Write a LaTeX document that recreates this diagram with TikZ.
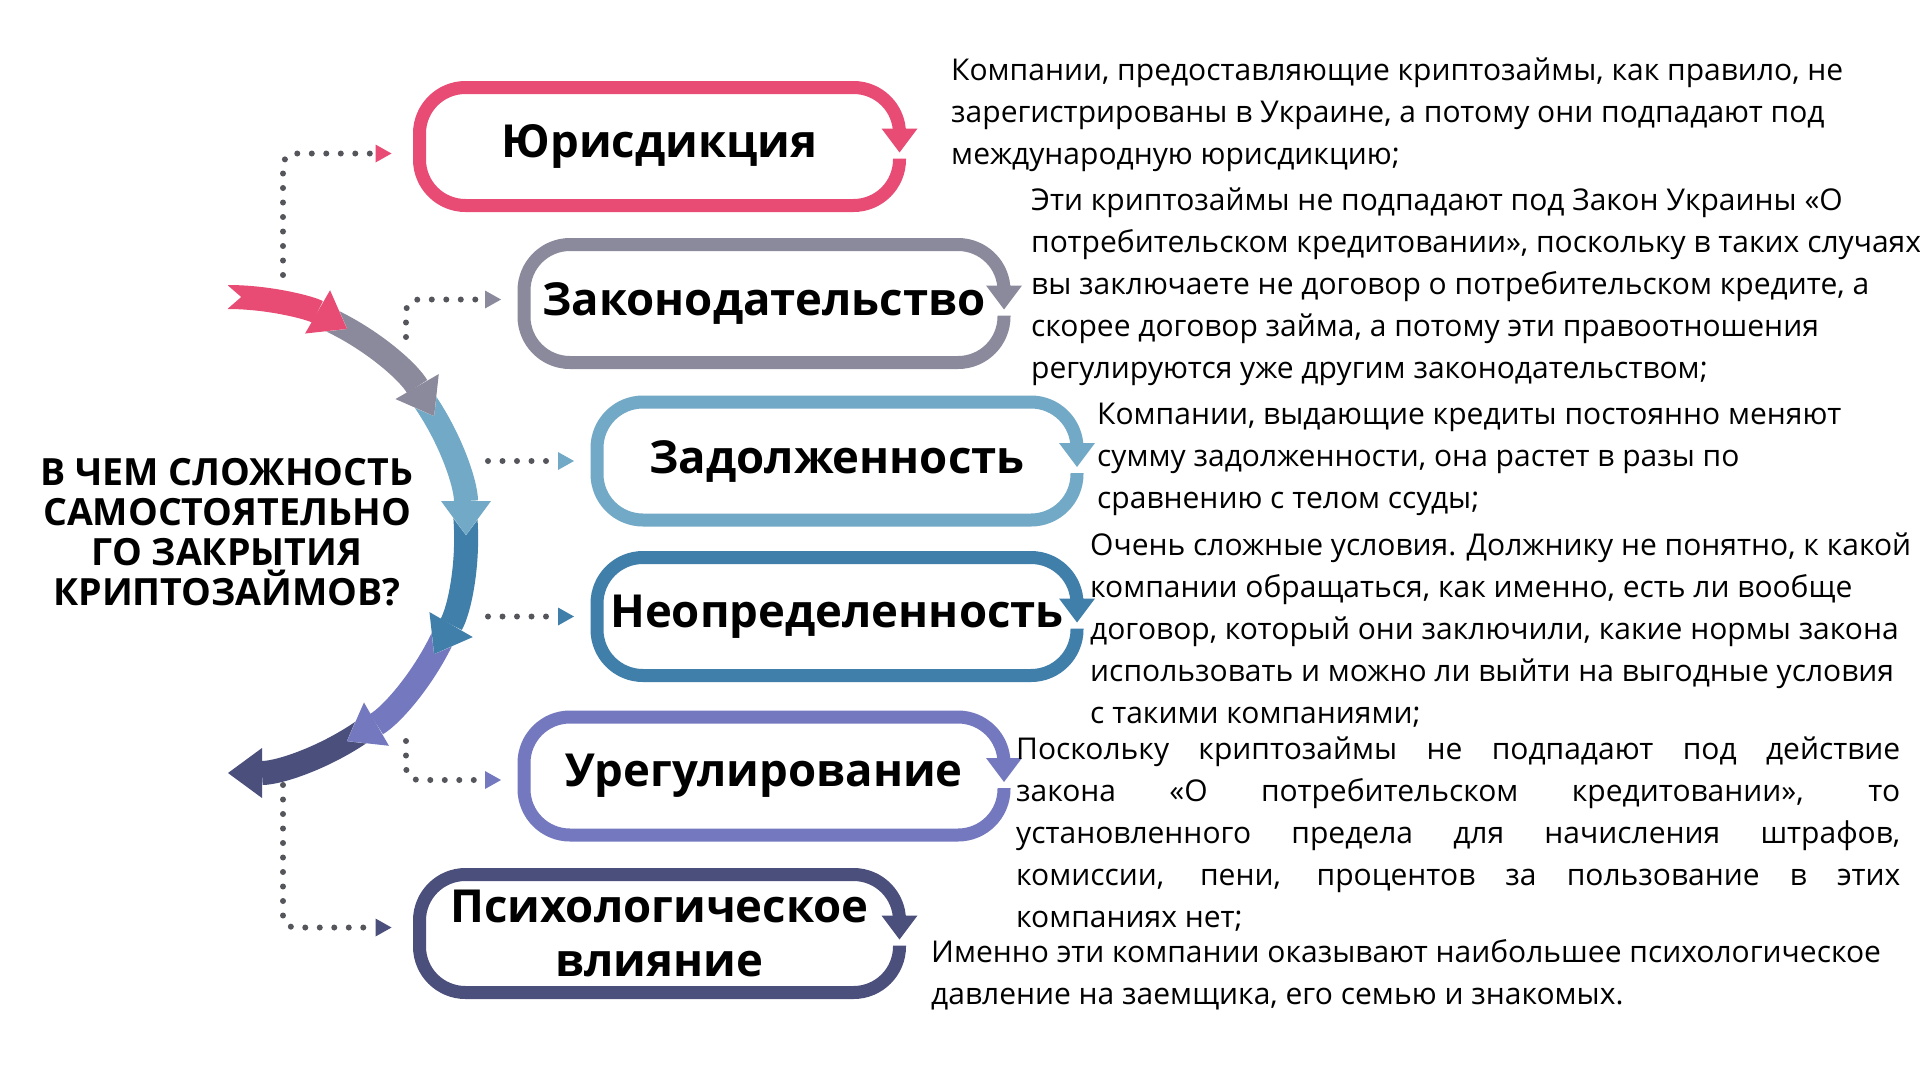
\documentclass[tikz,border=0pt]{standalone}
\usepackage{fontspec}
\setmainfont{Open Sans}
\usetikzlibrary{arrows.meta}

\definecolor{jurcol}{HTML}{E84C74}
\definecolor{lawcol}{HTML}{8A8A9C}
\definecolor{debtcol}{HTML}{72A9C6}
\definecolor{unccol}{HTML}{3F7FAA}
\definecolor{regcol}{HTML}{7479BF}
\definecolor{psycol}{HTML}{4A4F7C}
\definecolor{dotcol}{HTML}{55555C}

\tikzset{
  capsule/.style={minimum width=480pt, minimum height=118pt, inner sep=0pt, outer sep=0pt,
    font=\fontsize{45.5}{54}\selectfont\bfseries, align=center},
  ring/.style={line width=13pt, rounded corners=46pt, -{Triangle[width=36pt,length=24pt,line width=0pt]}},
  seg/.style={line width=24pt, -{Triangle[width=50pt,length=34pt,line width=0pt]},
    preaction={draw=white, line width=30pt, -{Triangle[width=60pt,length=40pt,line width=0pt]}}},
  dotline/.style={dotcol, line width=6pt, line cap=round, dash pattern=on 0pt off 14.5pt, rounded corners=12pt},
  desc/.style={anchor=north west, align=left, inner sep=0pt, font=\fontsize{30}{42}\selectfont},
  title/.style={align=center, inner sep=0pt, font=\fontsize{37.5}{40}\selectfont\bfseries}
}

\begin{document}
\begin{tikzpicture}[x=1pt,y=1pt]
  \fill[white] (0,0) rectangle (1920,-1080);
  \useasboundingbox (0,0) rectangle (1920,-1080);

  \begin{scope}[shift={(228,-535)}]
    \foreach \a/\c in {-60/psycol, -30/regcol, 0/unccol, 30/debtcol, 60/lawcol}
      \draw[seg, \c] (\a+7:238) arc[start angle=\a+7, end angle=\a-30, radius=238];
    \draw[seg, jurcol] (90:238) arc[start angle=90, end angle=60, radius=238];
    \fill[white] (-2,251) -- (13,238) -- (-2,225) -- cycle;
  \end{scope}

  \node[title] (q) at (227,-532) {В ЧЕМ СЛОЖНОСТЬ\\САМОСТОЯТЕЛЬНО\\ГО ЗАКРЫТИЯ\\КРИПТОЗАЙМОВ?};

  \node[capsule] (jur) at (659.5,-146.5) {Юрисдикция};
  \node[capsule] (law) at (764,-303.5) {Законодательство};
  \node[capsule] (debt) at (837,-461) {Задолженность};
  \node[capsule] (unc) at (837,-616.5) {Неопределенность};
  \node[capsule] (reg) at (764,-776) {Урегулирование};
  \node[capsule] (psy) at (659.5,-933.5) {Психологическое\\влияние};

  \foreach \n/\c in {jur/jurcol, law/lawcol, debt/debtcol, unc/unccol, reg/regcol, psy/psycol}
    \draw[ring, \c] ([yshift=-12pt]\n.east) -- (\n.south east) -- (\n.south west)
      -- (\n.north west) -- (\n.north east) -- ([yshift=-6pt]\n.east);

  \coordinate (c1) at (283,-275);
  \coordinate (c2) at (406,-337);
  \coordinate (c3) at (488,-461);
  \coordinate (c4) at (488,-616.5);
  \coordinate (c5) at (406,-741);
  \coordinate (c6) at (283,-785);
  \draw[dotline, -{Triangle[width=18pt,length=16pt,line width=0pt,color=jurcol]}, shorten >=28pt] (c1) |- ([yshift=-7pt]jur.west);
  \draw[dotline, -{Triangle[width=18pt,length=16pt,line width=0pt,color=lawcol]}, shorten >=23pt] (c2) |- ([yshift=4pt]law.west);
  \draw[dotline, -{Triangle[width=18pt,length=16pt,line width=0pt,color=debtcol]}, shorten >=23pt] (c3) -- (debt.west);
  \draw[dotline, -{Triangle[width=18pt,length=16pt,line width=0pt,color=unccol]}, shorten >=23pt] (c4) -- (unc.west);
  \draw[dotline, -{Triangle[width=18pt,length=16pt,line width=0pt,color=regcol]}, shorten >=23pt] (c5) |- ([yshift=-4pt]reg.west);
  \draw[dotline, -{Triangle[width=18pt,length=16pt,line width=0pt,color=psycol]}, shorten >=28pt] (c6) |- ([yshift=6pt]psy.west);

  \node[desc] (t1) at (951,-51) {\strut Компании, предоставляющие криптозаймы, как правило, не\\
    зарегистрированы в Украине, а потому они подпадают под\\
    международную юрисдикцию;};
  \node[desc] (t2) at (1031,-181) {\strut Эти криптозаймы не подпадают под Закон Украины «О\\
    потребительском кредитовании», поскольку в таких случаях\\
    вы заключаете не договор о потребительском кредите, а\\
    скорее договор займа, а потому эти правоотношения\\
    регулируются уже другим законодательством;};
  \node[desc] (t3) at (1097,-395) {\strut Компании, выдающие кредиты постоянно меняют\\
    сумму задолженности, она растет в разы по\\
    сравнению с телом ссуды;};
  \node[desc] (t4) at (1090,-526) {\strut Очень сложные условия. Должнику не понятно, к какой\\
    компании обращаться, как именно, есть ли вообще\\
    договор, который они заключили, какие нормы закона\\
    использовать и можно ли выйти на выгодные условия\\
    с такими компаниями;};
  \node[desc] (t5) at (1016,-730) {\strut\makebox[884pt][s]{Поскольку криптозаймы не подпадают под действие}\\
    \makebox[884pt][s]{закона «О потребительском кредитовании», то}\\
    \makebox[884pt][s]{установленного предела для начисления штрафов,}\\
    \makebox[884pt][s]{комиссии, пени, процентов за пользование в этих}\\
    компаниях нет;};
  \node[desc] (t6) at (931,-933) {\strut Именно эти компании оказывают наибольшее психологическое\\
    давление на заемщика, его семью и знакомых.};
\end{tikzpicture}
\end{document}
